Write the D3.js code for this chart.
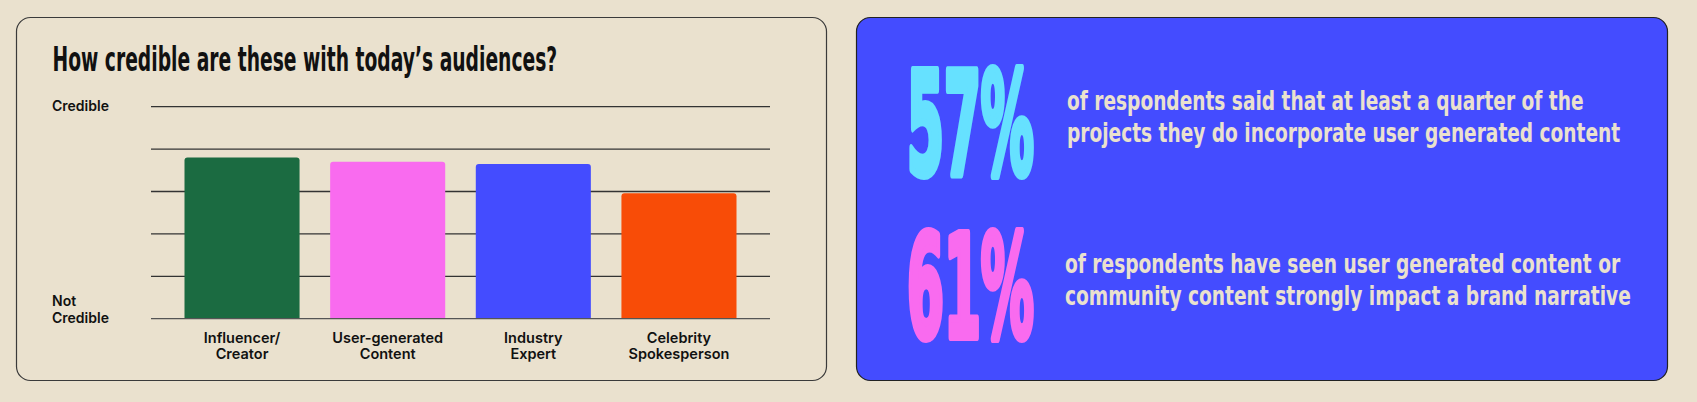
<!DOCTYPE html>
<html>
<head>
<meta charset="utf-8">
<script src="https://cdn.jsdelivr.net/npm/d3@7"></script>
<style>
  html, body { margin: 0; padding: 0; background: #EAE1CE; }
  svg { display: block; }
</style>
</head>
<body>
<div id="chart"></div>
<script>
// chart data
const categories = ["Influencer/|Creator", "User-generated|Content", "Industry|Expert", "Celebrity|Spokesperson"];
const values = [3.8, 3.7, 3.65, 2.96];
const yTicks = [0, 1, 2, 3, 4, 5];
const yLabels = [{ value: 5, text: "Credible" }, { value: 0, text: "Not|Credible" }];
const title = "How credible are these with today\u2019s audiences?";

// stat panel data
const statNumbers = ["57%", "61%"];
const statLines = [
  ["of respondents said that at least a quarter of the", "projects they do incorporate user generated content"],
  ["of respondents have seen user generated content or", "community content strongly impact a brand narrative"]
];

const barColors = ["#1B6B41", "#F96BEF", "#444CFF", "#F84C07"];
const statColors = ["#66E1FF", "#F96BEF"];

const width = 1697, height = 402;
const condensed = "'DejaVu Sans Condensed', 'DejaVu Sans', sans-serif";
const grotesk = "Inter, 'Liberation Sans', Arial, sans-serif";

const svg = d3.select("#chart").append("svg")
  .attr("width", width)
  .attr("height", height);

svg.append("rect").attr("width", width).attr("height", height).attr("fill", "#EAE1CE");

// squeeze a text horizontally so it spans targetWidth, anchored at (x, y)
function squeezeTo(sel, x, y, targetWidth) {
  sel.each(function () {
    const w = this.getBBox().width;
    d3.select(this).attr("transform", `translate(${x},${y}) scale(${targetWidth / w},1)`);
  });
}

// left card
svg.append("rect")
  .attr("x", 16.5).attr("y", 17.5).attr("width", 810).attr("height", 363)
  .attr("rx", 14)
  .attr("fill", "#EAE1CE").attr("stroke", "#3a3a3a").attr("stroke-width", 1.2);

// right card
svg.append("rect")
  .attr("x", 856.5).attr("y", 17.5).attr("width", 811).attr("height", 363)
  .attr("rx", 14)
  .attr("fill", "#444CFF").attr("stroke", "#222").attr("stroke-width", 1.2);

// title
svg.append("text")
  .attr("font-family", condensed).attr("font-weight", "bold").attr("font-size", 34)
  .attr("fill", "#111")
  .text(title)
  .call(squeezeTo, 52.5, 70.7, 505);

// scales
const x = d3.scaleBand()
  .domain(categories)
  .range([151, 770])
  .paddingInner(0.21)
  .paddingOuter(0.23);

const y = d3.scaleLinear()
  .domain([0, 5])
  .range([318.7, 106.7]);

const color = d3.scaleOrdinal().domain(categories).range(barColors);

// gridlines (all except baseline, drawn later over bars)
svg.append("g")
  .selectAll("line")
  .data(yTicks.filter(d => d !== 0))
  .join("line")
  .attr("x1", 151).attr("x2", 770)
  .attr("y1", d => y(d)).attr("y2", d => y(d))
  .attr("stroke", "#333").attr("stroke-width", 1.3);

// bars with rounded top corners
const r = 3;
svg.append("g")
  .selectAll("path")
  .data(categories.map((c, i) => ({ cat: c, value: values[i] })))
  .join("path")
  .attr("d", d => {
    const x0 = x(d.cat), x1 = x0 + x.bandwidth();
    const y0 = y(d.value), y1 = y(0);
    return `M${x0},${y1}V${y0 + r}Q${x0},${y0} ${x0 + r},${y0}H${x1 - r}Q${x1},${y0} ${x1},${y0 + r}V${y1}Z`;
  })
  .attr("fill", d => color(d.cat));

// baseline
svg.append("line")
  .attr("x1", 151).attr("x2", 770)
  .attr("y1", y(0)).attr("y2", y(0))
  .attr("stroke", "#555").attr("stroke-width", 1.3);

// y labels
svg.append("g")
  .selectAll("text")
  .data(yLabels)
  .join("text")
  .attr("font-family", grotesk).attr("font-weight", 600).attr("font-size", 14)
  .attr("fill", "#111")
  .each(function (d) {
    const lines = d.text.split("|");
    const t = d3.select(this);
    const base = d.value === 0 ? y(0) + 4 - (lines.length - 1) * 16.5 : y(d.value) + 4.5;
    lines.forEach((ln, i) => {
      t.append("tspan").attr("x", 52).attr("y", base + i * 16.5).text(ln);
    });
  });

// x labels
svg.append("g")
  .selectAll("text")
  .data(categories)
  .join("text")
  .attr("text-anchor", "middle")
  .attr("font-family", grotesk).attr("font-weight", 600).attr("font-size", 14.5)
  .attr("fill", "#111")
  .each(function (d) {
    const t = d3.select(this);
    d.split("|").forEach((ln, i) => {
      t.append("tspan")
        .attr("x", x(d) + x.bandwidth() / 2)
        .attr("y", 343.3 + i * 16)
        .text(ln);
    });
  });

// stat panel: one row per statistic
const statY = d3.scalePoint().domain(statNumbers).range([121, 284]);

statNumbers.forEach((num, i) => {
  const cy = statY(num);

  svg.append("text")
    .attr("font-family", condensed).attr("font-weight", "bold").attr("font-size", 143)
    .attr("fill", statColors[i])
    .attr("stroke", statColors[i]).attr("stroke-width", 8).attr("stroke-linejoin", "round")
    .text(num)
    .call(squeezeTo, 907, cy + 52.5, 127);

  const lines = svg.append("g").selectAll("text")
    .data(statLines[i])
    .join("text")
    .attr("font-family", condensed).attr("font-weight", "bold").attr("font-size", 27)
    .attr("fill", "#EAE1CE")
    .text(d => d);

  // same condensing factor for every line of copy
  const ref = lines.nodes()[1].getBBox().width;
  const k = (i === 0 ? 554 : 566) / ref;
  lines.each(function (d, j) {
    d3.select(this).attr("transform", `translate(${i === 0 ? 1067 : 1065},${cy - 11.5 + j * 32.5}) scale(${k},1)`);
  });
});
</script>
</body>
</html>
